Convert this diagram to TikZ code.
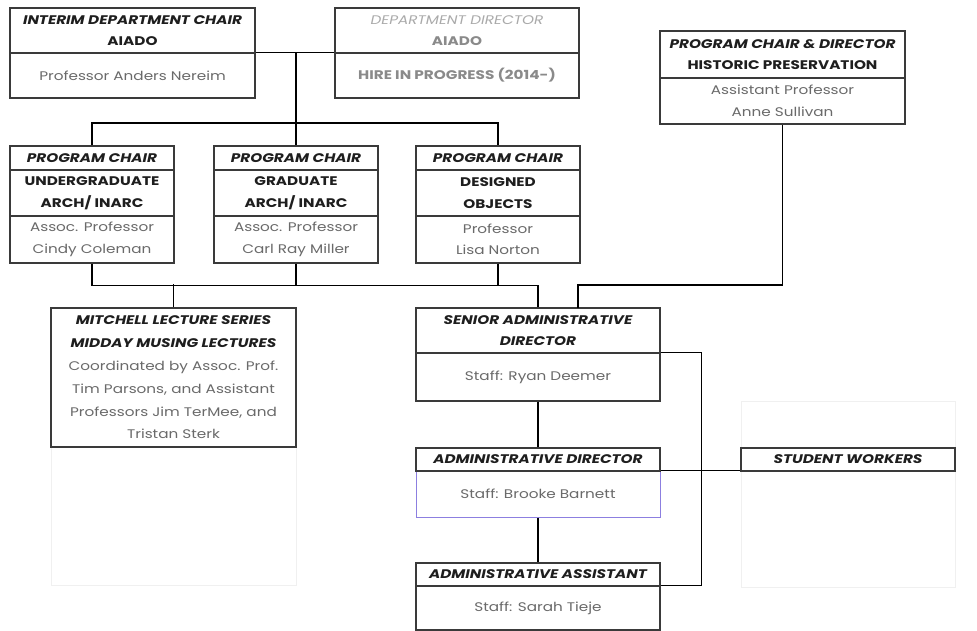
\documentclass[tikz,border=0pt]{standalone}
\usepackage{fontspec}
\setmainfont[FakeStretch=1.22]{Poppins}
\usetikzlibrary{calc}
\definecolor{bordc}{HTML}{3A3A3A}
\definecolor{hdr}{HTML}{1E1E1E}
\definecolor{bodyc}{HTML}{6A6A6A}
\definecolor{lgray}{HTML}{AAAAAA}
\definecolor{mgray}{HTML}{8A8A8A}
\definecolor{purp}{HTML}{8C7FE0}
\definecolor{faint}{HTML}{F0F0F0}
\newcommand{\hbi}[1]{{\color{hdr}\bfseries\itshape #1}}
\newcommand{\hb}[1]{{\color{hdr}\bfseries #1}}
\newcommand{\bt}[1]{{\color{bodyc}#1}}
\begin{document}
\begin{tikzpicture}[x=1pt,y=-1pt,
  cell/.style={draw=bordc, line width=1.3pt, fill=white, rectangle, inner sep=0pt, align=center,
    font=\fontsize{12.5}{21.5}\selectfont},
  conn/.style={draw=black, line width=1.1pt},
  faintbox/.style={draw=faint, line width=0.8pt}]
\useasboundingbox (0,0) rectangle (977,631);
\fill[white] (0,0) rectangle (977,631);
% faint background remnants
\draw[faintbox] (741,401) rectangle (955,587);
\draw[faintbox] (51,447) rectangle (296,585);
% top row
\node[cell, minimum width=245pt, minimum height=45pt] (i1h) at (132.5,30.5)
  {\hbi{INTERIM DEPARTMENT CHAIR}\\\hb{AIADO}};
\node[cell, minimum width=245pt, minimum height=45pt] (i1b) at (132.5,75.5)
  {\bt{Professor Anders Nereim}};
\node[cell, minimum width=244pt, minimum height=45pt] (d2h) at (457,30.5)
  {{\color{lgray}\itshape DEPARTMENT DIRECTOR}\\{\color{mgray}\bfseries AIADO}};
\node[cell, minimum width=244pt, minimum height=45pt] (d2b) at (457,75.5)
  {{\color{mgray}\bfseries HIRE IN PROGRESS (2014-)}};
\node[cell, minimum width=245pt, minimum height=47pt] (p3h) at (782.5,54.5)
  {\hbi{PROGRAM CHAIR \& DIRECTOR}\\\hb{HISTORIC PRESERVATION}};
\node[cell, minimum width=245pt, minimum height=46pt] (p3b) at (782.5,101)
  {\bt{Assistant Professor}\\\bt{Anne Sullivan}};
% program chairs
\foreach \n/\cx/\a/\b/\c/\d in {pA/92/UNDERGRADUATE/{ARCH/ INARC}/{Assoc. Professor}/{Cindy Coleman},
  pB/296/GRADUATE/{ARCH/ INARC}/{Assoc. Professor}/{Carl Ray Miller},
  pC/498/DESIGNED/OBJECTS/Professor/{Lisa Norton}}{
  \node[cell, minimum width=164pt, minimum height=24pt] (\n h) at (\cx,158) {\hbi{PROGRAM CHAIR}};
  \node[cell, minimum width=164pt, minimum height=46pt] (\n m) at (\cx,193) {\hb{\a}\\\hb{\b}};
  \node[cell, minimum width=164pt, minimum height=47pt] (\n b) at (\cx,239.5) {\bt{\c}\\\bt{\d}};
}
% Mitchell
\node[cell, minimum width=245pt, minimum height=139pt, font=\fontsize{12.5}{22.8}\selectfont] (mit) at (173.5,377.5)
  {\hbi{MITCHELL LECTURE SERIES}\\\hbi{MIDDAY MUSING LECTURES}\\
   \bt{Coordinated by Assoc. Prof.}\\\bt{Tim Parsons, and Assistant}\\
   \bt{Professors Jim TerMee, and}\\\bt{Tristan Sterk}};
% admin column
\node[cell, minimum width=244pt, minimum height=45pt] (sh) at (538,330.5)
  {\hbi{SENIOR ADMINISTRATIVE}\\\hbi{DIRECTOR}};
\node[cell, minimum width=244pt, minimum height=48pt] (sb) at (538,377)
  {\bt{Staff: Ryan Deemer}};
\node[cell, draw=purp, line width=1pt, minimum width=244pt, minimum height=46pt] (adb) at (538,494)
  {\bt{Staff: Brooke Barnett}};
\node[cell, minimum width=244pt, minimum height=23pt] (adh) at (538,459.5)
  {\hbi{ADMINISTRATIVE DIRECTOR}};
\node[cell, minimum width=244pt, minimum height=44pt] (aab) at (538,608)
  {\bt{Staff: Sarah Tieje}};
\node[cell, minimum width=244pt, minimum height=23pt] (aah) at (538,574.5)
  {\hbi{ADMINISTRATIVE ASSISTANT}};
\node[cell, minimum width=214pt, minimum height=23pt] (sw) at (848,459.5)
  {\hbi{STUDENT WORKERS}};
% junction coordinates
\coordinate (j1) at (296,53);
\coordinate (j2) at (296,123);
\coordinate (j4) at (578,285);
\coordinate (k) at (578,308);
% connectors
\draw[conn] (i1b.north east) -- (d2b.north west);
\draw[conn] (j1) -- (pBh.north);
\draw[conn] (pAh.north) |- (j2) -| (pCh.north);
\draw[conn] (pAb.south) -- ++(0,22) -| (sh.north);
\draw[conn] (pBb.south) -- ++(0,22);
\draw[conn] (pCb.south) -- ++(0,22);
\draw[conn] (mit.north) -- ++(0,-23);
\draw[conn] (p3b.south) |- (j4) -- (k);
\draw[conn] (sb.south) -- (adh.north);
\draw[conn] (adb.south) -- (aah.north);
\draw[conn] (sb.north east) -- ++(41,0) |- (aab.north east);
\draw[conn] (adb.north east) -- (adb.north east -| sw.west);
\end{tikzpicture}
\end{document}
